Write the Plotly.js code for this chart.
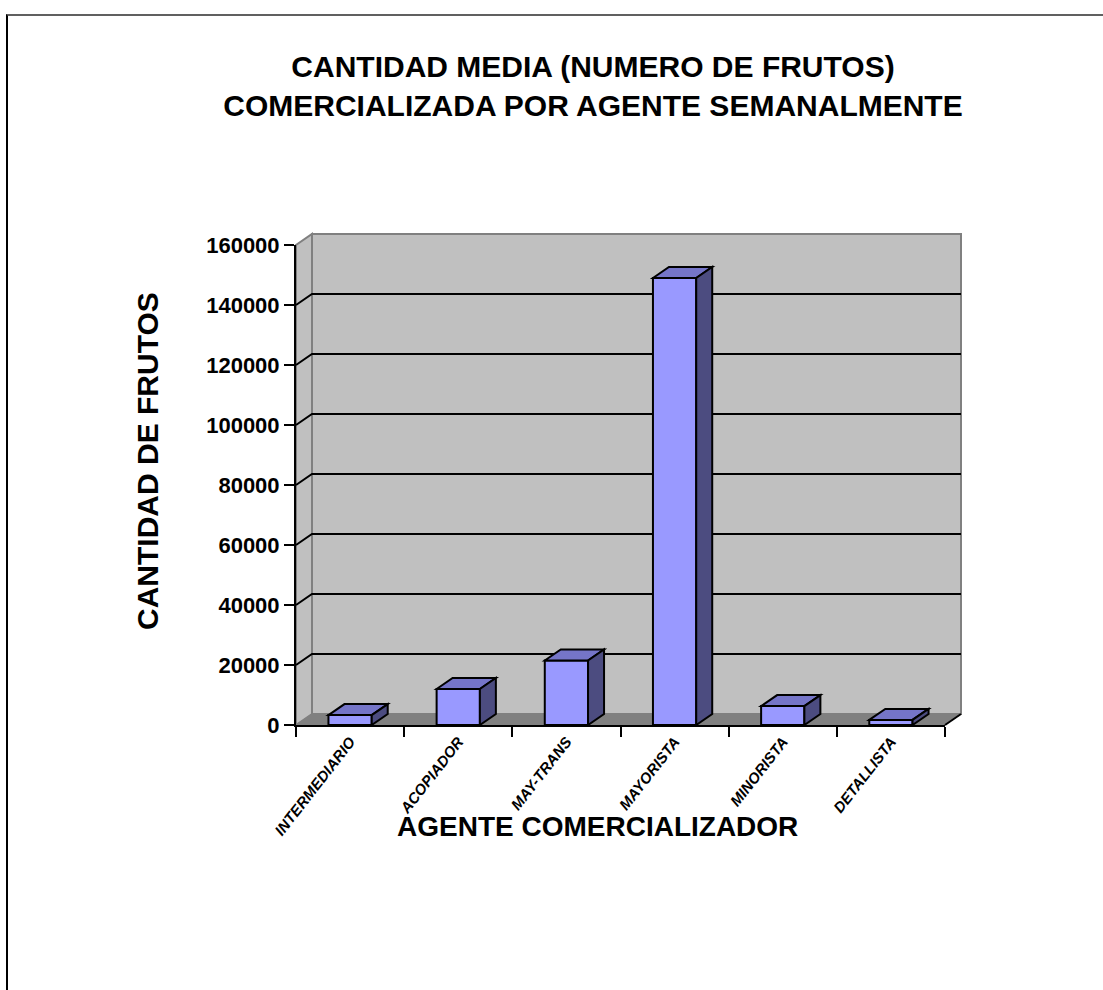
<!DOCTYPE html>
<html>
<head>
<meta charset="utf-8">
<script src="https://cdn.plot.ly/plotly-3.0.1.min.js"></script>
<style>
  html, body { margin: 0; padding: 0; background: #ffffff; overflow: hidden; }
  #wrap { position: relative; width: 1103px; height: 990px; }
  #chart { position: absolute; left: 0; top: 0; width: 1103px; height: 990px; }
  #frame { position: absolute; left: 6px; top: 14px; width: 2000px; height: 2000px;
           border-left: 2px solid #000000; border-top: 2px solid #606060; pointer-events: none; }
</style>
</head>
<body>
<div id="wrap">
  <div id="chart"></div>
  <div id="frame"></div>
</div>
<script>
// ---- data ----
const categories = ['INTERMEDIARIO', 'ACOPIADOR', 'MAY-TRANS', 'MAYORISTA', 'MINORISTA', 'DETALLISTA'];
const values = [3300, 12000, 21500, 149000, 6300, 1700];
const yTickValues = [0, 20000, 40000, 60000, 80000, 100000, 120000, 140000, 160000];
const yTickLabels = ['0', '20000', '40000', '60000', '80000', '100000', '120000', '140000', '160000'];
const chartTitle = 'CANTIDAD MEDIA (NUMERO DE FRUTOS)<br>COMERCIALIZADA POR AGENTE SEMANALMENTE';
const xTitle = 'AGENTE COMERCIALIZADOR';
const yTitle = 'CANTIDAD DE FRUTOS';

// ---- geometry / style ----
const FIG_W = 1103, FIG_H = 990;
const M = { l: 296, r: 158, t: 245, b: 265, pad: 0 };
const PLOT_W = FIG_W - M.l - M.r;
const PLOT_H = FIG_H - M.t - M.b;
const Y_MAX = yTickValues[yTickValues.length - 1];
const DEPTH_X_PX = 16, DEPTH_Y_PX = 11;
const BAR_W = 0.4;
const FONT = 'Liberation Sans, Arial, sans-serif';

// depth offsets in paper and data units
const dxP = DEPTH_X_PX / PLOT_W, dyP = DEPTH_Y_PX / PLOT_H;
const catPx = PLOT_W / categories.length;
const dxD = DEPTH_X_PX / catPx;
const dyD = DEPTH_Y_PX * Y_MAX / PLOT_H;

// paper position helpers (pixel -> paper fraction)
const pxX = px => (px - M.l) / PLOT_W;
const pxY = py => (FIG_H - M.b - py) / PLOT_H;

const shapes = [];
// back wall
shapes.push({ type: 'rect', xref: 'paper', yref: 'paper', layer: 'below',
  x0: dxP, x1: 1 + dxP, y0: dyP, y1: 1 + dyP,
  fillcolor: '#c0c0c0', line: { color: '#808080', width: 2 } });
// side wall
shapes.push({ type: 'path', xref: 'paper', yref: 'paper', layer: 'below',
  path: `M0,0 L${dxP},${dyP} L${dxP},${1 + dyP} L0,1 Z`,
  fillcolor: '#c0c0c0', line: { color: '#808080', width: 2 } });
// floor
shapes.push({ type: 'path', xref: 'paper', yref: 'paper', layer: 'below',
  path: `M0,0 L1,0 L${1 + dxP},${dyP} L${dxP},${dyP} Z`,
  fillcolor: '#808080', line: { color: '#808080', width: 1 } });
shapes.push({ type: 'line', xref: 'paper', yref: 'paper', layer: 'below',
  x0: 1, y0: 0, x1: 1 + dxP, y1: dyP, line: { color: '#000000', width: 2 } });
// gridlines on walls
yTickValues.forEach(v => {
  if (v === 0 || v === Y_MAX) return;
  const p = v / Y_MAX;
  shapes.push({ type: 'path', xref: 'paper', yref: 'paper', layer: 'below',
    path: `M0,${p} L${dxP},${p + dyP} L${1 + dxP},${p + dyP}`,
    line: { color: '#000000', width: 2 } });
});
// 3D faces of bars
values.forEach((v, i) => {
  const xl = i - BAR_W / 2, xr = i + BAR_W / 2;
  shapes.push({ type: 'path', xref: 'x', yref: 'y', layer: 'above',
    path: `M${xl},${v} L${xl + dxD},${v + dyD} L${xr + dxD},${v + dyD} L${xr},${v} Z`,
    fillcolor: '#7575c8', line: { color: '#000000', width: 2 } });
  shapes.push({ type: 'path', xref: 'x', yref: 'y', layer: 'above',
    path: `M${xr},0 L${xr},${v} L${xr + dxD},${v + dyD} L${xr + dxD},${dyD} Z`,
    fillcolor: '#4c4c80', line: { color: '#000000', width: 2 } });
});

const trace = {
  type: 'bar',
  x: categories,
  y: values,
  width: BAR_W,
  marker: { color: '#9999ff', line: { color: '#000000', width: 2 } },
  hoverinfo: 'skip',
  showlegend: false
};

const layout = {
  width: FIG_W, height: FIG_H,
  margin: M,
  paper_bgcolor: '#ffffff',
  plot_bgcolor: 'rgba(0,0,0,0)',
  font: { family: FONT, color: '#000000' },
  showlegend: false,
  title: {
    text: chartTitle,
    font: { family: FONT, size: 30, weight: 'bold', color: '#000000' },
    x: 593 / FIG_W, xanchor: 'center', xref: 'container',
    y: 1 - 77 / FIG_H, yanchor: 'middle', yref: 'container'
  },
  xaxis: {
    type: 'category',
    range: [-0.5, categories.length - 0.5],
    tickson: 'boundaries',
    ticks: 'outside', ticklen: 10, tickwidth: 2, tickcolor: '#000000',
    showline: true, linewidth: 2, linecolor: '#000000',
    showgrid: false, zeroline: false,
    tickangle: -52,
    tickfont: { family: FONT, size: 15, weight: 'bold', style: 'italic', color: '#000000' },
    fixedrange: true
  },
  yaxis: {
    range: [0, Y_MAX],
    tickvals: yTickValues, ticktext: yTickLabels,
    ticks: 'outside', ticklen: 10, tickwidth: 2, tickcolor: '#000000',
    showline: true, linewidth: 2, linecolor: '#000000',
    showgrid: false, zeroline: false,
    tickfont: { family: FONT, size: 22, weight: 'bold', color: '#000000' },
    fixedrange: true
  },
  annotations: [
    { text: xTitle, xref: 'paper', yref: 'paper', x: pxX(597), y: pxY(826),
      xanchor: 'center', yanchor: 'middle', showarrow: false,
      font: { family: FONT, size: 28, weight: 'bold', color: '#000000' } },
    { text: yTitle, xref: 'paper', yref: 'paper', x: pxX(147), y: pxY(461),
      xanchor: 'center', yanchor: 'middle', showarrow: false, textangle: -90,
      font: { family: FONT, size: 30, weight: 'bold', color: '#000000' } }
  ],
  shapes: shapes
};

Plotly.newPlot('chart', [trace], layout, { displayModeBar: false, staticPlot: true });
</script>
</body>
</html>
